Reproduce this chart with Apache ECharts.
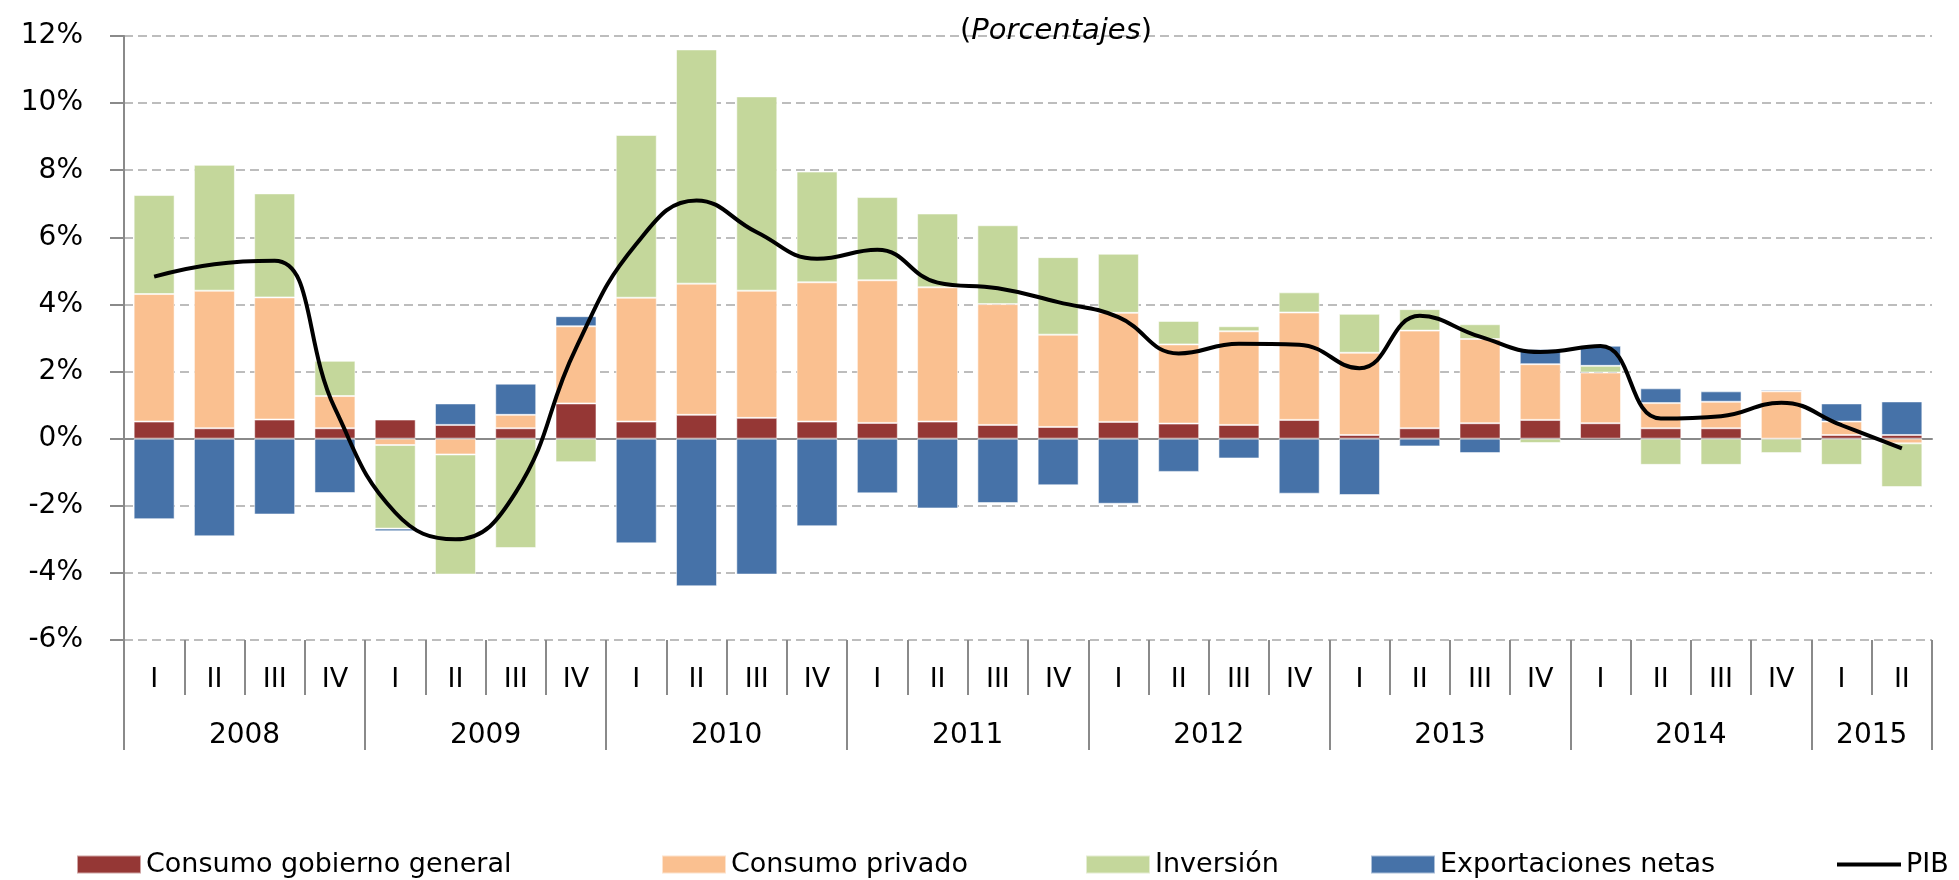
<!DOCTYPE html>
<html lang="es">
<head>
    <meta charset="UTF-8">
    <title>PIB - contribuciones</title>
    <style>
        body { margin: 0; background: #fff; }
        #chart { width: 1959px; height: 880px; }
    </style>
</head>
<body>
    <div id="chart"></div>
    <script src="https://cdn.jsdelivr.net/npm/echarts@6/dist/echarts.min.js"></script>
    <script>
        // años y cuántos trimestres tiene cada uno en el gráfico
        var years = ['2008', '2009', '2010', '2011', '2012', '2013', '2014', '2015']
        var quartersPerYear = [4, 4, 4, 4, 4, 4, 4, 2]
        var quarterNames = ['I', 'II', 'III', 'IV']
        var yTicks = ['-6%', '-4%', '-2%', '0%', '2%', '4%', '6%', '8%', '10%', '12%']

        // contribuciones al crecimiento (puntos porcentuales)
        var gobierno = [0.51, 0.31, 0.57, 0.31, 0.57, 0.41, 0.31, 1.05, 0.51, 0.71, 0.62, 0.51, 0.47, 0.51, 0.41,
            0.35, 0.50, 0.45, 0.41, 0.56, 0.11, 0.31, 0.46, 0.56, 0.46, 0.31, 0.31, 0.00, 0.11, 0.11]
        var privado = [3.80, 4.10, 3.64, 0.96, -0.19, -0.47, 0.40, 2.30, 3.69, 3.91, 3.79, 4.15, 4.25, 4.00, 3.60,
            2.75, 3.25, 2.36, 2.79, 3.20, 2.45, 2.91, 2.51, 1.66, 1.51, 0.75, 0.79, 1.41, 0.40, -0.14]
        var inversion = [2.95, 3.75, 3.10, 1.05, -2.49, -3.58, -3.26, -0.70, 4.85, 6.98, 5.79, 3.30, 2.48, 2.20, 2.35,
            2.31, 1.76, 0.70, 0.15, 0.60, 1.16, 0.64, 0.44, -0.13, 0.20, -0.78, -0.78, -0.43, -0.78, -1.30]
        var exportaciones = [-2.40, -2.91, -2.26, -1.62, -0.08, 0.64, 0.93, 0.30, -3.12, -4.40, -4.05, -2.61, -1.63, -2.08, -1.92,
            -1.39, -1.94, -0.99, -0.59, -1.64, -1.68, -0.23, -0.43, 0.45, 0.60, 0.44, 0.31, 0.05, 0.54, 1.00]
        var pib = [4.83, 5.20, 5.30, 0.90, -2.20, -3.00, -1.60, 2.70, 5.80, 7.10, 6.15, 5.36, 5.63, 4.65, 4.48,
            4.07, 3.62, 2.54, 2.83, 2.80, 2.10, 3.66, 3.04, 2.58, 2.76, 0.60, 0.67, 1.07, 0.40, -0.29]

        // etiquetas de trimestre y posiciones de los años (en medios trimestres)
        var quarters = []
        var yearAt = {}
        var yearEdges = {0: true}
        var pos = 0
        for (var y = 0; y < years.length; y++) {
            for (var q = 0; q < quartersPerYear[y]; q++) quarters.push(quarterNames[q])
            yearAt[pos + quartersPerYear[y]] = years[y]
            pos += quartersPerYear[y] * 2
            yearEdges[pos] = true
        }
        var halfSlots = []
        for (var i = 0; i <= quarters.length * 2; i++) halfSlots.push(String(i))

        var font = 'DejaVu Sans'
        var gray = '#8a8a8a'
        var border = 'rgba(255,255,255,0.55)'

        var chart = echarts.init(document.getElementById('chart'))

        function legendItem(name, left, isLine) {
            var lg = {
                data: [{ name: name, icon: 'rect' }],
                left: left,
                top: 846,
                itemWidth: 64,
                itemHeight: 18,
                textStyle: { fontFamily: font, fontSize: 27, color: '#000' }
            }
            if (isLine) {
                lg.itemHeight = 4
                lg.itemStyle = { color: '#000' }
            }
            return lg
        }

        chart.setOption({
            animation: false,
            textStyle: { fontFamily: font },
            title: {
                text: '{p|(}{i|Porcentajes}{p|)}',
                left: 955,
                top: 12,
                textStyle: {
                    rich: {
                        p: { fontFamily: font, fontSize: 29, fontWeight: 'normal', color: '#000' },
                        i: { fontFamily: font, fontSize: 29, fontWeight: 'normal', fontStyle: 'italic', color: '#000' }
                    }
                }
            },
            legend: [
                legendItem('Consumo gobierno general', 71),
                legendItem('Consumo privado', 656),
                legendItem('Inversión', 1080),
                legendItem('Exportaciones netas', 1365),
                legendItem('PIB', 1832, true)
            ],
            grid: { left: 124, right: 27, top: 36, bottom: 240 },
            xAxis: [
                {
                    type: 'category',
                    data: quarters,
                    axisLine: { onZero: true, lineStyle: { color: gray, width: 2 } },
                    axisTick: { interval: 0, length: 8, lineStyle: { color: gray, width: 2 } },
                    axisLabel: { show: false }
                },
                {
                    type: 'category',
                    data: quarters,
                    position: 'bottom',
                    axisLine: { show: false, onZero: false },
                    axisTick: { show: true, interval: 0, length: 55, lineStyle: { color: gray, width: 2 } },
                    axisLabel: { interval: 0, margin: 26, fontFamily: font, fontSize: 27, color: '#000' }
                },
                {
                    type: 'category',
                    data: halfSlots,
                    boundaryGap: false,
                    position: 'bottom',
                    axisLine: { show: false, onZero: false },
                    axisTick: {
                        show: true, length: 110,
                        interval: function (idx) { return !!yearEdges[idx] },
                        lineStyle: { color: gray, width: 2 }
                    },
                    axisLabel: {
                        margin: 82, fontFamily: font, fontSize: 28, color: '#000',
                        interval: function (idx) { return !!yearAt[idx] },
                        formatter: function (v) { return yearAt[v] || '' }
                    }
                }
            ],
            yAxis: {
                type: 'value',
                min: -6,
                max: 12,
                interval: 2,
                axisLine: { show: true, lineStyle: { color: gray, width: 2 } },
                axisTick: { show: true, length: 14, lineStyle: { color: gray, width: 2 } },
                axisLabel: {
                    margin: 41, fontFamily: font, fontSize: 28, color: '#000',
                    formatter: function (v) { return yTicks[(v + 6) / 2] }
                },
                splitLine: { lineStyle: { color: '#bdbdbd', width: 2, type: [9, 5] } }
            },
            series: [
                { name: 'Consumo gobierno general', type: 'bar', stack: 'c', barWidth: '68%', data: gobierno,
                  itemStyle: { color: '#953735', borderColor: border, borderWidth: 1 } },
                { name: 'Consumo privado', type: 'bar', stack: 'c', data: privado,
                  itemStyle: { color: '#FAC090', borderColor: border, borderWidth: 1 } },
                { name: 'Inversión', type: 'bar', stack: 'c', data: inversion,
                  itemStyle: { color: '#C4D79B', borderColor: border, borderWidth: 1 } },
                { name: 'Exportaciones netas', type: 'bar', stack: 'c', data: exportaciones,
                  itemStyle: { color: '#4672A8', borderColor: border, borderWidth: 1 } },
                { name: 'PIB', type: 'line', data: pib, smooth: 0.45, symbol: 'none',
                  lineStyle: { color: '#000', width: 4 }, itemStyle: { color: '#000' } }
            ]
        })
    </script>
</body>
</html>
